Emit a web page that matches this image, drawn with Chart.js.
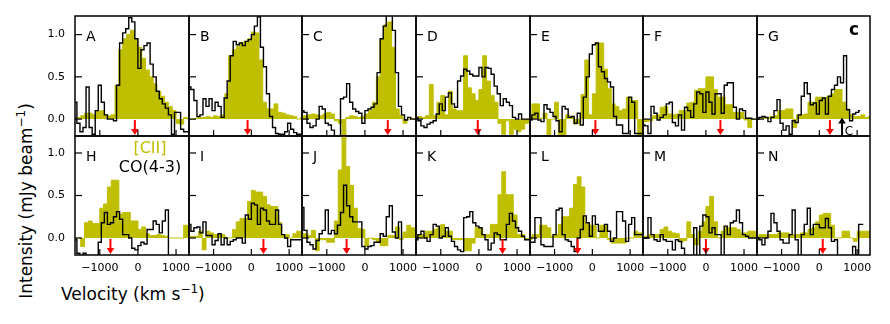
<!DOCTYPE html>
<html>
<head>
<meta charset="utf-8">
<script src="https://cdn.jsdelivr.net/npm/chart.js@4.4.1/dist/chart.umd.min.js"></script>
<style>
body { margin: 0; background: #fff; width: 890px; height: 324px; position: relative; overflow: hidden; font-family: "DejaVu Sans", sans-serif; }
canvas { position: absolute; }
.ttl { position: absolute; font-size: 17px; line-height: 20px; color: #000; white-space: nowrap; }
.sup { font-size: 12px; position: relative; top: -7px; }
</style>
</head>
<body>
<div class="ttl" style="left:61px;top:284px">Velocity (km s<span class="sup">−1</span>)</div>
<div class="ttl" style="left:26.5px;top:201px;transform:translate(-50%,-50%) rotate(-90deg)">Intensity (mJy beam<span class="sup">−1</span>)</div>
<script>
// channel centres (km/s)
var coVel = [-1640,-1560,-1480,-1400,-1320,-1240,-1160,-1080,-1000,-920,-840,-760,-680,-600,-520,-440,-360,-280,-200,-120,-40,40,120,200,280,360,440,520,600,680,760,840,920,1000,1080,1160,1240,1320];
var ciiVel = [-1650,-1550,-1450,-1350,-1250,-1150,-1050,-950,-850,-750,-650,-550,-450,-350,-250,-150,-50,50,150,250,350,450,550,650,750,850,950,1050,1150,1250,1350];

// [CII] spectra
var ciiA = [0.01,0.02,0.04,0.07,0.07,0.05,0.09,0.1,0.05,0.04,0.05,0.4,0.82,0.95,1.0,1.05,0.95,0.85,0.72,0.58,0.5,0.42,0.33,0.27,0.2,0.15,0.1,-0.05,-0.06,0.02,0.0];
var ciiB = [0.0,0.0,0.01,0.02,0.02,0.03,0.02,0.04,0.03,0.05,0.3,0.75,0.82,0.86,0.9,0.92,0.95,1.03,1.02,0.7,0.2,0.12,0.12,0.18,0.08,0.07,0.05,0.04,0.03,0.0,0.02];
var ciiC = [0.04,0.04,0.05,0.06,0.05,0.04,0.06,0.08,0.06,-0.02,-0.05,-0.2,0.02,0.04,0.03,0.02,0.03,0.06,0.1,0.2,0.5,0.95,1.12,1.15,0.85,0.12,0.04,-0.05,0.0,0.01,0.0];
var ciiD = [0.02,0.03,0.02,0.04,0.41,0.04,0.2,0.28,0.05,0.33,0.12,0.1,0.1,0.75,0.37,0.3,0.22,0.35,0.75,0.45,0.28,0.2,-0.05,-0.18,-0.02,-0.18,-0.12,-0.15,-0.12,-0.05,0.0];
var ciiE = [0.02,0.18,0.18,0.01,0.07,-0.2,0.0,0.2,-0.2,-0.2,0.05,0.03,-0.06,-0.05,0.29,0.7,0.05,0.3,0.9,0.9,0.59,0.36,0.18,0.15,0.1,0.12,0.26,0.22,0.22,-0.2,-0.2];
var ciiF = [-0.03,-0.03,-0.02,0.04,0.05,0.14,0.15,0.06,0.05,0.06,0.1,0.1,0.19,0.2,0.34,0.36,0.36,0.5,0.5,0.35,0.26,0.26,0.17,0.17,0.08,0.08,0.08,-0.01,-0.1,0.0,0.0];
var ciiG = [0.0,0.01,0.02,0.02,0.03,0.04,0.1,0.1,0.12,0.12,-0.1,0.05,0.05,0.06,0.2,0.2,0.26,0.26,0.25,0.27,0.3,0.35,0.35,0.2,0.12,0.05,0.03,0.03,0.05,0.02,0.03];
var ciiH = [0.0,0.0,-0.1,0.18,0.2,0.17,0.17,0.35,0.4,0.6,0.68,0.68,0.28,0.3,0.3,0.2,0.2,0.1,0.13,0.05,0.03,0.03,0.04,0.03,0.02,0.0,0.0,0.0,0.0,0.15,0.15];
var ciiI = [0.02,0.02,0.02,0.08,-0.14,0.08,0.06,0.04,0.04,0.04,0.0,0.0,0.1,0.19,0.23,0.23,0.43,0.56,0.54,0.54,0.49,0.39,0.37,0.37,0.18,0.04,0.04,0.0,0.05,0.08,0.08];
var ciiJ = [0.05,0.05,0.03,0.09,-0.15,-0.02,-0.02,-0.05,-0.05,0.2,0.8,1.25,0.84,0.62,0.35,0.11,0.1,-0.1,0.0,-0.02,-0.05,-0.09,-0.09,0.03,0.03,0.13,-0.02,0.07,0.15,0.12,0.12];
var ciiK = [0.04,0.04,0.04,0.08,0.08,0.1,0.12,0.16,0.08,0.08,-0.02,-0.02,-0.02,-0.15,-0.15,-0.06,0.12,0.12,0.04,0.04,0.16,0.16,0.51,0.78,0.51,0.51,0.27,0.04,0.04,-0.02,-0.02];
var ciiL = [-0.02,0.04,0.04,0.15,0.15,0.12,0.02,0.04,0.16,0.25,0.25,0.35,0.63,0.72,0.6,0.18,0.15,0.15,0.0,0.15,0.15,-0.02,-0.06,-0.06,-0.06,-0.06,0.0,0.0,0.08,0.06,0.06];
var ciiM = [0.02,0.02,0.04,0.04,0.04,0.1,0.13,0.08,0.06,0.05,-0.05,-0.03,0.19,0.04,-0.08,0.08,0.19,0.37,0.49,0.19,0.0,0.08,0.12,0.12,0.12,0.1,0.06,0.06,0.08,0.08,0.08];
var ciiN = [-0.02,0.04,0.04,0.04,0.04,0.04,0.06,0.06,0.06,0.04,0.04,0.04,0.06,0.06,0.1,0.12,0.19,0.27,0.29,0.29,0.15,0.0,0.0,0.08,0.08,0.0,-0.04,0.08,0.08,0.08,0.08];

// CO(4-3) spectra
var coA = [0.2,-0.05,-0.15,-0.1,0.38,-0.1,-0.18,0.1,0.4,0.2,0.05,0.0,0.0,-0.02,0.4,0.9,1.02,1.07,1.2,1.15,0.95,0.6,0.82,0.87,0.9,0.65,0.5,0.33,0.24,0.18,0.13,0.05,-0.18,0.08,0.08,-0.12,-0.15,-0.15];
var coB = [0.38,0.35,0.22,0.03,0.05,0.24,0.15,0.24,0.1,0.2,0.15,0.02,0.25,0.45,0.75,0.92,0.88,0.9,0.87,0.92,0.94,1.0,1.1,1.21,0.85,0.62,0.3,0.03,-0.1,-0.17,-0.18,-0.18,-0.15,-0.05,-0.12,-0.16,-0.18,-0.18];
var coC = [0.1,0.08,-0.05,-0.1,-0.08,0.0,0.15,0.12,-0.05,-0.07,-0.13,-0.25,-0.25,0.24,0.26,0.42,0.2,0.12,0.09,0.07,-0.05,0.1,0.12,0.14,0.18,0.55,0.95,1.1,1.25,1.25,1.05,0.55,0.15,0.05,-0.01,0.02,0.0,0.0];
var coD = [0.02,-0.02,-0.08,-0.1,-0.06,-0.04,-0.02,0.06,0.18,0.1,0.26,0.31,0.18,0.14,0.45,0.51,0.59,0.57,0.53,0.51,0.51,0.61,0.5,0.61,0.6,0.53,0.39,0.3,0.16,0.24,0.2,0.16,0.02,0.0,0.06,0.0,0.0,0.0];
var coE = [-0.01,0.05,0.07,-0.01,-0.03,0.17,0.12,0.08,0.03,-0.02,-0.15,0.15,0.12,0.02,0.03,-0.05,0.07,-0.07,0.26,0.5,0.77,0.88,0.9,0.62,0.56,0.48,0.44,0.38,0.03,-0.07,-0.07,-0.17,-0.17,0.26,0.2,-0.17,-0.17,-0.17];
var coF = [-0.07,-0.08,-0.17,0.15,0.07,-0.01,0.02,0.05,0.18,0.2,-0.04,-0.08,0.05,-0.13,0.14,0.1,0.02,0.18,0.32,0.3,0.08,0.32,0.2,0.06,0.3,0.3,0.07,0.4,0.43,0.43,0.14,0.0,0.12,0.1,0.01,0.01,0.0,0.0];
var coG = [0.0,0.02,0.03,0.02,-0.03,0.02,0.1,0.23,-0.05,-0.13,-0.08,-0.18,-0.02,-0.04,0.05,0.27,0.43,0.3,0.17,0.19,0.06,0.22,0.25,0.06,0.27,0.35,0.4,0.5,0.43,0.75,0.11,-0.02,0.06,0.08,0.1,null,null,null];
var coH = [-0.02,-0.18,-0.25,-0.18,-0.25,-0.25,-0.25,-0.25,-0.05,0.18,0.3,0.16,0.18,0.25,0.31,0.22,0.04,0.04,0.0,-0.12,-0.14,-0.09,-0.05,-0.07,0.1,0.1,0.2,0.16,0.06,0.2,0.33,-0.25,-0.25,-0.25,-0.25,-0.25,-0.25,-0.25];
var coI = [0.16,0.08,0.12,0.13,0.06,0.19,0.03,0.03,-0.08,-0.03,0.05,-0.08,0.0,-0.08,-0.04,-0.02,0.0,0.0,-0.06,0.27,0.22,0.41,0.39,0.16,0.35,0.33,0.2,0.16,0.16,0.33,0.16,0.04,0.0,-0.1,-0.02,-0.02,-0.02,-0.02];
var coJ = [0.36,0.09,-0.05,-0.08,-0.13,-0.03,0.05,0.09,0.33,0.05,0.09,0.05,0.15,0.3,0.62,0.38,0.25,0.19,0.19,0.19,-0.1,-0.13,-0.1,-0.09,-0.05,-0.05,0.05,0.02,0.25,0.38,0.07,0.0,0.19,-0.25,-0.25,-0.25,-0.25,-0.25];
var coK = [-0.02,0.04,0.08,0.0,-0.04,0.04,0.16,0.14,0.0,0.02,0.12,0.02,-0.04,-0.1,-0.14,-0.16,0.24,0.25,0.31,0.18,0.14,0.12,0.04,-0.02,-0.14,-0.06,0.06,0.04,-0.02,-0.02,0.16,0.29,0.2,0.12,0.08,0.02,-0.02,-0.02];
var coL = [-0.05,-0.05,0.24,0.24,-0.08,-0.1,-0.1,-0.1,0.04,0.33,0.35,0.04,-0.02,-0.04,-0.1,-0.16,0.0,0.1,0.26,0.18,0.02,0.26,0.16,0.08,0.08,0.16,0.08,-0.04,0.0,0.31,0.31,0.2,-0.04,0.16,0.24,0.04,0.04,0.04];
var coM = [0.0,0.0,0.24,0.04,-0.02,-0.04,0.04,-0.02,-0.04,-0.04,-0.14,-0.02,-0.04,-0.12,-0.25,-0.25,-0.25,0.12,-0.25,0.14,0.27,0.25,0.06,0.12,0.04,0.04,-0.25,0.14,0.04,0.18,0.2,0.33,0.18,0.04,0.02,0.0,0.0,0.0];
var coN = [0.0,-0.02,-0.08,0.0,0.08,0.29,0.18,0.08,-0.02,-0.06,-0.06,0.04,0.33,-0.02,-0.25,0.04,0.16,0.35,0.04,0.16,0.16,0.12,0.12,0.23,0.12,-0.04,-0.02,-0.25,-0.25,-0.25,-0.25,-0.25,-0.1,-0.25,0.16,0.16,null,null];

var panelLetters = ['A','B','C','D','E','F','G','H','I','J','K','L','M','N'];
var ciiSeries = [ciiA,ciiB,ciiC,ciiD,ciiE,ciiF,ciiG,ciiH,ciiI,ciiJ,ciiK,ciiL,ciiM,ciiN];
var coSeries = [coA,coB,coC,coD,coE,coF,coG,coH,coI,coJ,coK,coL,coM,coN];
// velocity of the red arrows
var arrowVel = [-80,-100,600,-30,80,380,280,-720,320,-480,620,-390,0,90];
var xTickVals = [-1000, 0, 1000];
var yTickVals = [0, 0.5, 1.0];
// black marker in panel G
var markVel = 600;
var markLabelVel = 780;

var colLeft = [75,189,302,416,530,643,757,870];
var rowTop = [16,136,255];
var yMaxRow = [1.22, 1.2];
var ML = 45, MB = 30, MT = 2, MR = 2;
var OLIVE = '#bfbf00';

function arrow(ctx, x, yFrom, yTo, color) {
    var dir = yTo > yFrom ? 1 : -1;
    ctx.strokeStyle = color;
    ctx.fillStyle = color;
    ctx.lineWidth = 2;
    ctx.beginPath();
    ctx.moveTo(x, yFrom);
    ctx.lineTo(x, yTo - dir * 5);
    ctx.stroke();
    ctx.beginPath();
    ctx.moveTo(x - 3.8, yTo - dir * 6);
    ctx.lineTo(x + 3.8, yTo - dir * 6);
    ctx.lineTo(x, yTo);
    ctx.closePath();
    ctx.fill();
}

// no extra label padding: keep every plot box at its fixed place
function noPad(s) {
    s.paddingLeft = 0; s.paddingRight = 0; s.paddingTop = 0; s.paddingBottom = 0;
}

var decor = {
    id: 'decor',
    afterDatasetsDraw: function(chart, args, o) {
        var ctx = chart.ctx, a = chart.chartArea;
        var x = chart.scales.x, y = chart.scales.y;
        ctx.save();
        arrow(ctx, x.getPixelForValue(arrowVel[o.idx]), y.getPixelForValue(0) + 1, a.bottom - 1, '#ff0000');
        if (panelLetters[o.idx] == 'G') {
            arrow(ctx, x.getPixelForValue(markVel), a.bottom - 1, y.getPixelForValue(0.02), '#000');
            ctx.fillStyle = '#000';
            ctx.font = '12px "DejaVu Sans"';
            ctx.textAlign = 'center';
            ctx.textBaseline = 'alphabetic';
            ctx.fillText('C', x.getPixelForValue(markLabelVel), a.bottom - 1);
        }
        ctx.restore();
    },
    afterDraw: function(chart, args, o) {
        var ctx = chart.ctx, a = chart.chartArea;
        var x = chart.scales.x, y = chart.scales.y;
        ctx.save();
        ctx.strokeStyle = '#000';
        ctx.lineWidth = 1.2;
        xTickVals.forEach(function(v) {
            var px = x.getPixelForValue(v);
            ctx.beginPath(); ctx.moveTo(px, a.bottom); ctx.lineTo(px, a.bottom - 6); ctx.stroke();
        });
        yTickVals.forEach(function(v) {
            var py = y.getPixelForValue(v);
            ctx.beginPath(); ctx.moveTo(a.left, py); ctx.lineTo(a.left + 7, py); ctx.stroke();
        });
        ctx.lineWidth = 1.5;
        ctx.strokeRect(a.left, a.top, a.right - a.left, a.bottom - a.top);

        ctx.fillStyle = '#000';
        ctx.font = '14px "DejaVu Sans"';
        ctx.textAlign = 'left';
        ctx.textBaseline = 'alphabetic';
        ctx.fillText(panelLetters[o.idx], a.left + 11, a.top + 25);
        if (panelLetters[o.idx] == 'G') {
            ctx.font = 'bold 17px "DejaVu Sans"';
            ctx.textAlign = 'right';
            ctx.fillText('c', a.right - 11, a.top + 19);
        }
        if (panelLetters[o.idx] == 'H') {
            ctx.font = '16px "DejaVu Sans"';
            ctx.textAlign = 'center';
            ctx.fillStyle = OLIVE;
            ctx.fillText('[CII]', a.left + 75, a.top + 17);
            ctx.fillStyle = '#000';
            ctx.fillText('CO(4-3)', a.left + 75, a.top + 36);
        }
        ctx.restore();
    }
};

function tickLabel(v) {
    return v < 0 ? '\u2212' + Math.abs(v) : String(v);
}

panelLetters.forEach(function(name, idx) {
    var r = Math.floor(idx / 7), c = idx % 7;
    var pw = colLeft[c + 1] - colLeft[c];
    var ph = rowTop[r + 1] - rowTop[r];
    var cv = document.createElement('canvas');
    cv.width = ML + pw + MR;
    cv.height = MT + ph + MB;
    cv.style.left = (colLeft[c] - ML) + 'px';
    cv.style.top = (rowTop[r] - MT) + 'px';
    document.body.appendChild(cv);

    new Chart(cv.getContext('2d'), {
        type: 'line',
        data: {
            datasets: [{
                label: '[CII]',
                data: ciiVel.map(function(v, i) { return {x: v, y: ciiSeries[idx][i]}; }),
                stepped: 'middle',
                borderColor: OLIVE,
                backgroundColor: OLIVE,
                borderWidth: 1,
                fill: 'origin',
                pointRadius: 0,
                clip: 0,
                order: 2
            }, {
                label: 'CO(4-3)',
                data: coVel.map(function(v, i) { return {x: v, y: coSeries[idx][i]}; }),
                stepped: 'middle',
                borderColor: '#000',
                borderWidth: 1.4,
                fill: false,
                pointRadius: 0,
                clip: 0,
                order: 1
            }]
        },
        options: {
            responsive: false,
            animation: false,
            layout: { autoPadding: false, padding: { left: 0, top: MT, right: MR, bottom: 0 } },
            plugins: {
                legend: { display: false },
                tooltip: { enabled: false },
                decor: { idx: idx }
            },
            scales: {
                x: {
                    type: 'linear',
                    min: -1650,
                    max: 1340,
                    afterBuildTicks: function(s) { s.ticks = xTickVals.map(function(v) { return {value: v}; }); },
                    afterFit: function(s) { s.height = MB; noPad(s); },
                    grid: { display: false, drawTicks: false },
                    border: { display: false },
                    ticks: {
                        display: r == 1,
                        padding: 7,
                        autoSkip: false,
                        maxRotation: 0,
                        color: '#000',
                        font: { family: 'DejaVu Sans', size: 11 },
                        callback: tickLabel
                    }
                },
                y: {
                    type: 'linear',
                    min: -0.2,
                    max: yMaxRow[r],
                    afterBuildTicks: function(s) { s.ticks = yTickVals.map(function(v) { return {value: v}; }); },
                    afterFit: function(s) { s.width = ML; noPad(s); },
                    grid: { display: false, drawTicks: false },
                    border: { display: false },
                    ticks: {
                        display: c == 0,
                        padding: 10,
                        color: '#000',
                        font: { family: 'DejaVu Sans', size: 11 },
                        callback: function(v) { return v.toFixed(1); }
                    }
                }
            }
        },
        plugins: [decor]
    });
});
</script>
</body>
</html>
